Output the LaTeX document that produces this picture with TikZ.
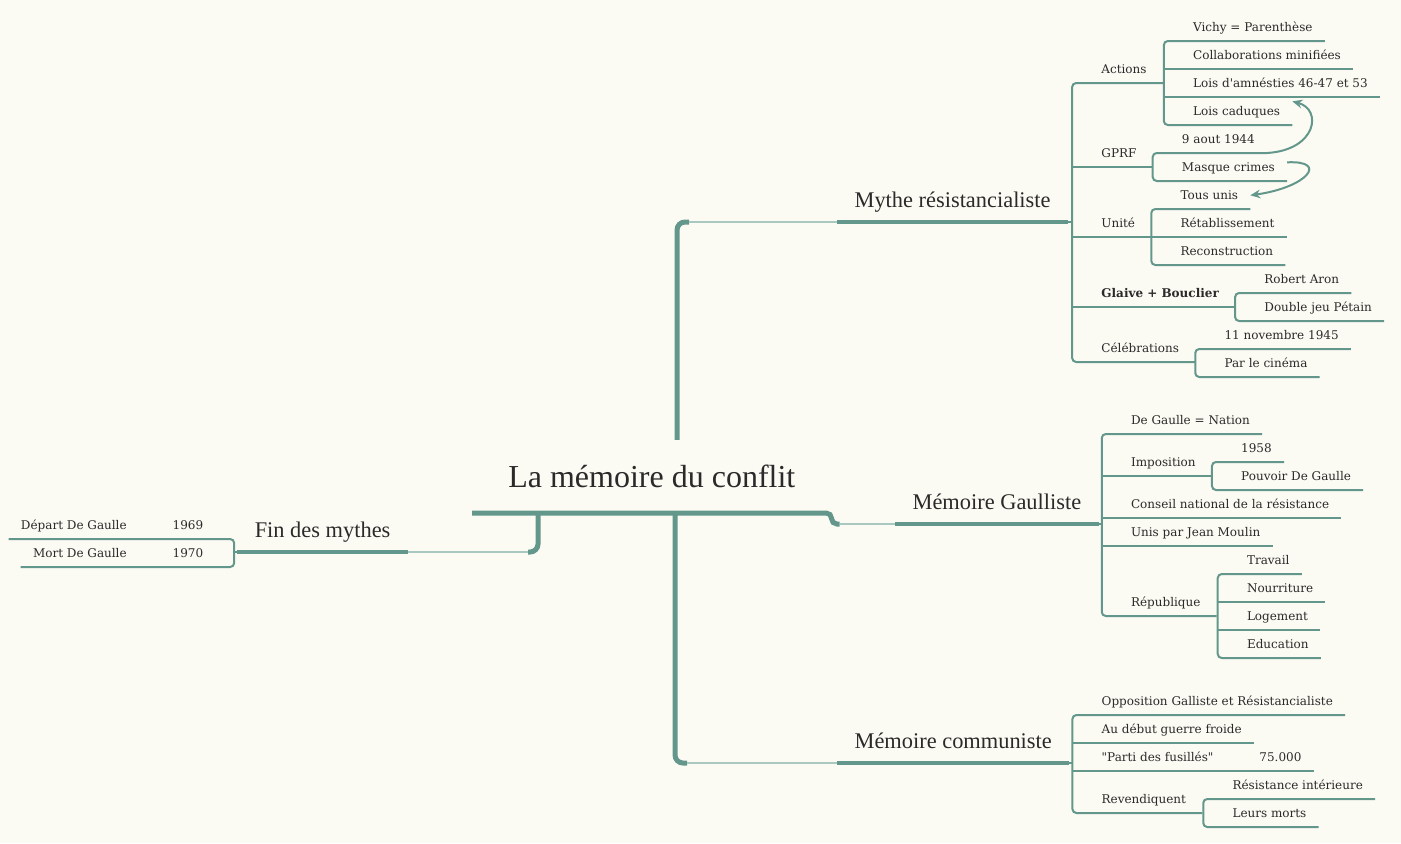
\documentclass[tikz,border=0pt]{standalone}
\usepackage{fontspec}
\setmainfont{DejaVu Serif}
\newfontfamily\leaffont{DejaVu Serif}
\newfontfamily\topicfont{Liberation Serif}
\usetikzlibrary{calc,arrows.meta}

\definecolor{mapbg}{HTML}{FCFBF3}
\definecolor{branch}{HTML}{63978C}
\definecolor{faded}{HTML}{A8C8C0}
\definecolor{ink}{HTML}{2A2A2A}

\begin{document}
\begin{tikzpicture}[x=0.75pt,y=-0.75pt]

		\tikzstyle{mapnode}=[anchor=south west,inner xsep=0pt,inner ysep=6.75pt,
			text depth=0pt,text=ink,font=\leaffont\fontsize{9}{11}\selectfont,
			execute at begin node={\hspace*{21.75pt}}]
		\tikzstyle{leaf}=[mapnode,execute at end node={\hspace*{9pt}}]
		\tikzstyle{parent}=[mapnode,execute at end node={\hspace*{12pt}}]
		\tikzstyle{leftleaf}=[anchor=south east,inner xsep=0pt,inner ysep=6.75pt,
			text depth=0pt,text=ink,font=\leaffont\fontsize{9}{11}\selectfont,
			execute at begin node={\hspace*{9pt}},execute at end node={\hspace*{23pt}}]
		\tikzstyle{topic}=[anchor=south west,inner xsep=13pt,inner ysep=10.5pt,
			text depth=0pt,text=ink,font=\topicfont\fontsize{16.8}{20}\selectfont]
		\tikzstyle{hub}=[anchor=south west,inner xsep=27pt,inner ysep=18.75pt,
			text depth=0pt,text=ink,font=\topicfont\fontsize{24}{28}\selectfont]
		\tikzstyle{twig}=[branch,line width=1.5pt,rounded corners=3pt]
		\tikzstyle{bough}=[branch,line width=3pt]
		\tikzstyle{trunk}=[branch,line width=3.75pt,rounded corners=6pt]
		\tikzstyle{fade}=[faded,line width=1.5pt]
		\tikzstyle{link}=[branch,line width=1.5pt,->,>={Stealth[length=7.5pt,width=6.5pt]}]

		\fill[mapbg] (0,0) rectangle (1401,843);
		\useasboundingbox (0,0) rectangle (1401,843);

		% centre and main branches
		\node[hub]	(title)	at (472,513)	{La mémoire du conflit};
		\node[topic]	(mythe)	at (837,222)	{Mythe résistancialiste};
		\node[topic]	(gaulliste)	at (895,524)	{Mémoire Gaulliste};
		\node[topic]	(communiste)	at (837,763)	{Mémoire communiste};
		\node[topic,anchor=south east]	(fin)	at (408,552)	{Fin des mythes};

		% Mythe résistancialiste
		\node[parent]	(actions)	at ($(mythe.south east)+(4,-139)$)	{Actions};
		\node[parent]	(gprf)	at ($(actions.south west)+(0,84)$)	{GPRF};
		\node[parent]	(unite)	at ($(gprf.south west)+(0,70)$)	{Unité};
		\node[parent]	(glaive)	at ($(unite.south west)+(0,70)$)	{\bfseries Glaive + Bouclier};
		\node[parent]	(celeb)	at ($(glaive.south west)+(0,55)$)	{Célébrations};

		\node[leaf]	(vichy)	at ($(actions.south east)+(1,-42)$)	{Vichy = Parenthèse};
		\node[leaf]	(collab)	at ($(vichy.south west)+(0,28)$)	{Collaborations minifiées};
		\node[leaf]	(amnesties)	at ($(collab.south west)+(0,28)$)	{Lois d'amnésties 46-47 et 53};
		\node[leaf]	(caduques)	at ($(amnesties.south west)+(0,28)$)	{Lois caduques};

		\node[leaf]	(aout)	at ($(gprf.south east)+(0,-14)$)	{9 aout 1944};
		\node[leaf]	(masque)	at ($(aout.south west)+(0,28)$)	{Masque crimes};

		\node[leaf]	(tousunis)	at ($(unite.south east)+(0,-28)$)	{Tous unis};
		\node[leaf]	(retab)	at ($(tousunis.south west)+(0,28)$)	{Rétablissement};
		\node[leaf]	(recons)	at ($(retab.south west)+(0,28)$)	{Reconstruction};

		\node[leaf]	(aron)	at ($(glaive.south east)+(0,-14)$)	{Robert Aron};
		\node[leaf]	(doublejeu)	at ($(aron.south west)+(0,28)$)	{Double jeu Pétain};

		\node[leaf]	(novembre)	at ($(celeb.south east)+(0,-13)$)	{11 novembre 1945};
		\node[leaf]	(cinema)	at ($(novembre.south west)+(0,28)$)	{Par le cinéma};

		% Mémoire Gaulliste
		\node[leaf]	(nation)	at ($(gaulliste.south east)+(3,-90)$)	{De Gaulle = Nation};
		\node[parent]	(imposition)	at ($(nation.south west)+(0,42)$)	{Imposition};
		\node[leaf]	(conseil)	at ($(imposition.south west)+(0,42)$)	{Conseil national de la résistance};
		\node[leaf]	(moulin)	at ($(conseil.south west)+(0,28)$)	{Unis par Jean Moulin};
		\node[parent]	(republique)	at ($(moulin.south west)+(0,70)$)	{République};

		\node[leaf]	(y1958)	at ($(imposition.south east)+(0,-14)$)	{1958};
		\node[leaf]	(pouvoir)	at ($(y1958.south west)+(0,28)$)	{Pouvoir De Gaulle};

		\node[leaf]	(travail)	at ($(republique.south east)+(1,-42)$)	{Travail};
		\node[leaf]	(nourriture)	at ($(travail.south west)+(0,28)$)	{Nourriture};
		\node[leaf]	(logement)	at ($(nourriture.south west)+(0,28)$)	{Logement};
		\node[leaf]	(education)	at ($(logement.south west)+(0,28)$)	{Education};

		% Mémoire communiste
		\node[leaf]	(opposition)	at ($(communiste.south east)+(3,-48)$)	{Opposition Galliste et Résistancialiste};
		\node[leaf]	(debut)	at ($(opposition.south west)+(0,28)$)	{Au début guerre froide};
		\node[leaf]	(fusilles)	at ($(debut.south west)+(0,28)$)	{"Parti des fusillés"\hspace{34.5pt}75.000};
		\node[parent]	(revendiquent)	at ($(fusilles.south west)+(0,42)$)	{Revendiquent};

		\node[leaf]	(interieure)	at ($(revendiquent.south east)+(1,-14)$)	{Résistance intérieure};
		\node[leaf]	(leursmorts)	at ($(interieure.south west)+(0,28)$)	{Leurs morts};

		% Fin des mythes
		\node[leftleaf]	(depart)	at ($(fin.south west)+(-3,-13)$)	{Départ De Gaulle\hspace{34.5pt}1969};
		\node[leftleaf]	(mort)	at ($(depart.south east)+(0,28)$)	{Mort De Gaulle\hspace{34.5pt}1970};

		% trunks
		\coordinate (hubup) at ($(title.north west)+(205,0)$);
		\coordinate (hubdown) at ($(title.south west)+(203,0)$);
		\coordinate (hubfin) at ($(title.south west)+(66,0)$);

		\draw[trunk,rounded corners=4pt] (title.south west) -- (title.south east) |- ($(title.south east |- gaulliste.south west)+(8,0)$) coordinate (gbend);
		\draw[fade] (gbend) -- (gaulliste.south west);
		\draw[trunk] (hubup) |- ($(hubup |- mythe.south west)+(12,0)$) coordinate (mbend);
		\draw[fade] (mbend) -- (mythe.south west);
		\draw[trunk] (hubdown) |- ($(hubdown |- communiste.south west)+(12,0)$) coordinate (cbend);
		\draw[fade] (cbend) -- (communiste.south west);
		\draw[trunk] (hubfin) |- ($(hubfin |- fin.south east)+(-10,0)$) coordinate (fbend);
		\draw[fade] (fbend) -- (fin.south east);

		\foreach \t in {mythe,gaulliste,communiste,fin}
			\draw[bough] (\t.south west) -- (\t.south east);

		\draw[twig] (mythe.south east) -- (mythe.south east -| actions.south west);
		\draw[twig] (gaulliste.south east) -- (gaulliste.south east -| nation.south west);
		\draw[twig] (communiste.south east) -- (communiste.south east -| opposition.south west);
		\draw[twig] (fin.south west) -- (fin.south west -| depart.south east);

		% brackets
		\draw[twig] (actions.south east) -- (actions.south west) -- (celeb.south west) -- (celeb.south east);
		\draw[twig] (vichy.south east) -- (vichy.south west) -- (caduques.south west) -- (caduques.south east);
		\draw[twig] (aout.south east) -- (aout.south west) -- (masque.south west) -- (masque.south east);
		\draw[twig] (tousunis.south east) -- (tousunis.south west) -- (recons.south west) -- (recons.south east);
		\draw[twig] (aron.south east) -- (aron.south west) -- (doublejeu.south west) -- (doublejeu.south east);
		\draw[twig] (novembre.south east) -- (novembre.south west) -- (cinema.south west) -- (cinema.south east);
		\draw[twig] (nation.south east) -- (nation.south west) -- (republique.south west) -- (republique.south east);
		\draw[twig] (y1958.south east) -- (y1958.south west) -- (pouvoir.south west) -- (pouvoir.south east);
		\draw[twig] (travail.south east) -- (travail.south west) -- (education.south west) -- (education.south east);
		\draw[twig] (opposition.south east) -- (opposition.south west) -- (revendiquent.south west) -- (revendiquent.south east);
		\draw[twig] (interieure.south east) -- (interieure.south west) -- (leursmorts.south west) -- (leursmorts.south east);
		\draw[twig] (depart.south west) -- (depart.south east) -- (mort.south east) -- (mort.south west);

		\foreach \n in {gprf,unite,glaive,collab,amnesties,retab,imposition,conseil,moulin,nourriture,logement,debut,fusilles}
			\draw[twig] (\n.south west) -- (\n.south east);

		% cross links
		\draw[link] (aout.south east) .. controls +(50,-3) and +(30,8) .. ($(caduques.north east)+(0,4)$);
		\draw[link] ($(masque.east)+(0,-5)$) .. controls +(42,-2) and +(57,-8) .. (tousunis.east);

	\end{tikzpicture}
\end{document}
